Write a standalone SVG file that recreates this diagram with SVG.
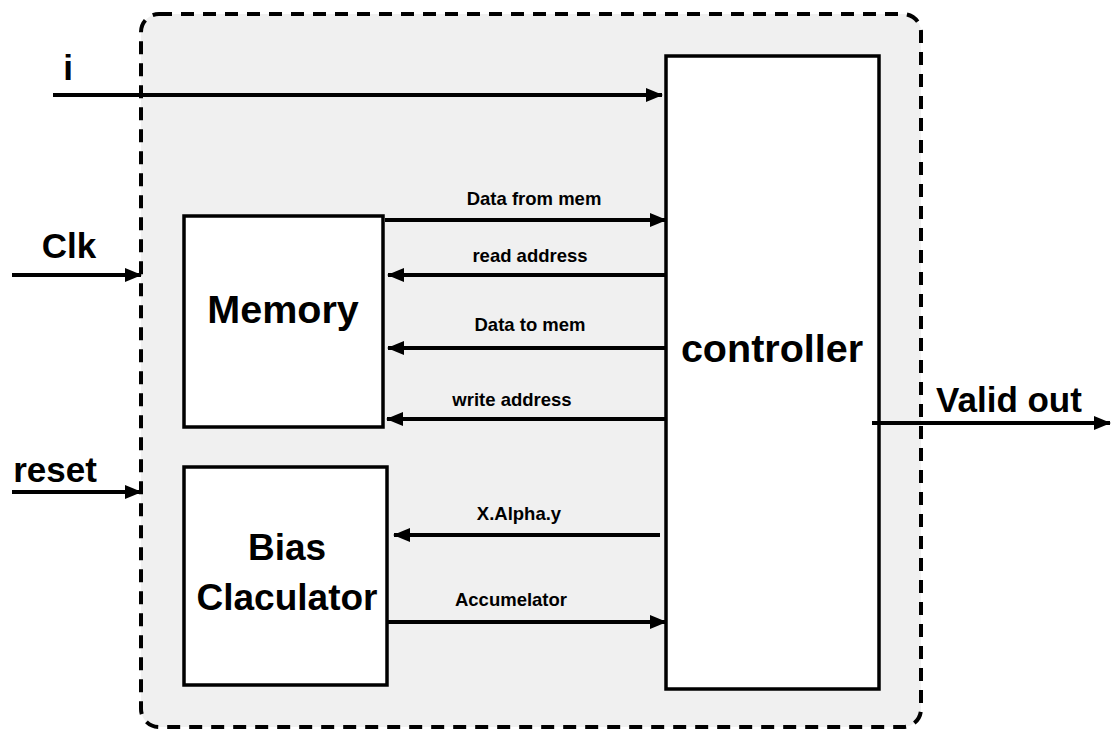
<svg xmlns="http://www.w3.org/2000/svg" width="1111" height="731" viewBox="0 0 1111 731">
  <style>
    .block { fill: #ffffff; stroke: #000; stroke-width: 3.5; }
    .wire { stroke: #000; stroke-width: 4; fill: none; marker-end: url(#arrow); }
    .big { font-family: "Liberation Sans", Arial, sans-serif; font-weight: bold; font-size: 37px; fill: #000; text-anchor: middle; }
    .port { font-family: "Liberation Sans", Arial, sans-serif; font-weight: bold; font-size: 35px; fill: #000; text-anchor: middle; }
    .sig { font-family: "Liberation Sans", Arial, sans-serif; font-weight: bold; font-size: 18.5px; fill: #000; text-anchor: middle; }
  </style>
  <defs>
    <marker id="arrow" markerUnits="userSpaceOnUse" markerWidth="18" markerHeight="16" refX="16" refY="8" orient="auto">
      <path d="M0,1 L17,8 L0,15 Z" fill="#000"/>
    </marker>
  </defs>

  <rect width="1111" height="731" fill="#ffffff"/>

  <!-- enclosing module boundary -->
  <g id="module">
    <rect x="141" y="14" width="780" height="713" rx="18" ry="18" fill="#f0f0f0" stroke="#000" stroke-width="4" stroke-dasharray="13,9"/>
  </g>

  <g id="memory">
    <rect class="block" x="184" y="216" width="199" height="211"/>
    <text class="big" x="283" y="323" style="font-size:39.5px">Memory</text>
  </g>

  <g id="bias-calculator">
    <rect class="block" x="184" y="467" width="203" height="218"/>
    <text class="big" x="287" y="560">Bias</text>
    <text class="big" x="287" y="610">Claculator</text>
  </g>

  <g id="controller">
    <rect class="block" x="666" y="56" width="213" height="633"/>
    <text class="big" x="772" y="362" style="font-size:39.5px">controller</text>
  </g>

  <g id="connectors">
    <!-- external inputs -->
    <line class="wire" x1="53" y1="95" x2="662" y2="95"/>
    <line class="wire" x1="12" y1="275" x2="141" y2="275"/>
    <line class="wire" x1="12" y1="492" x2="141" y2="492"/>
    <!-- memory interface -->
    <line class="wire" x1="385" y1="220" x2="666" y2="220"/>
    <line class="wire" x1="665" y1="275" x2="388" y2="275"/>
    <line class="wire" x1="665" y1="348" x2="388" y2="348"/>
    <line class="wire" x1="665" y1="419" x2="387" y2="419"/>
    <!-- bias calculator interface -->
    <line class="wire" x1="660" y1="535" x2="394" y2="535"/>
    <line class="wire" x1="388" y1="622" x2="666" y2="622"/>
    <!-- output -->
    <line class="wire" x1="872" y1="423" x2="1110" y2="423"/>
  </g>

  <g id="labels">
    <text class="port" x="68" y="80">i</text>
    <text class="port" x="69" y="258">Clk</text>
    <text class="port" x="55" y="482">reset</text>
    <text class="port" x="1009" y="412">Valid out</text>
    <text class="sig" x="534" y="205">Data from mem</text>
    <text class="sig" x="530" y="262">read address</text>
    <text class="sig" x="530" y="331">Data to mem</text>
    <text class="sig" x="512" y="406">write address</text>
    <text class="sig" x="519" y="520">X.Alpha.y</text>
    <text class="sig" x="511" y="606">Accumelator</text>
  </g>
</svg>
